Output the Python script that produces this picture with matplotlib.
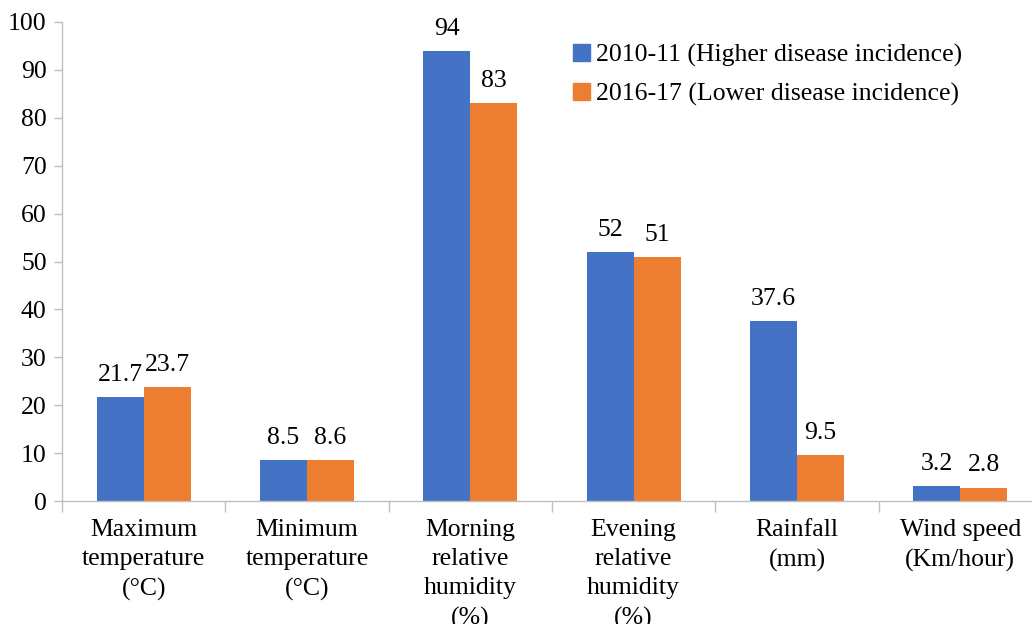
import numpy as np
import matplotlib
matplotlib.use("Agg")
import matplotlib.pyplot as plt
from matplotlib.patches import Patch

# weather parameters compared between the two seasons
categorias = [
    "Maximum\ntemperature\n(°C)",
    "Minimum\ntemperature\n(°C)",
    "Morning\nrelative\nhumidity\n(%)",
    "Evening\nrelative\nhumidity\n(%)",
    "Rainfall\n(mm)",
    "Wind speed\n(Km/hour)",
]
serie_2010 = [21.7, 8.5, 94, 52, 37.6, 3.2]
serie_2016 = [23.7, 8.6, 83, 51, 9.5, 2.8]
nomes = ["2010-11 (Higher disease incidence)", "2016-17 (Lower disease incidence)"]
y_ticks = list(range(0, 101, 10))

AZUL = "#4472C4"
LARANJA = "#ED7D31"
CINZA = "#BFBFBF"
FS = 18.5

plt.rcParams["font.family"] = ["Liberation Serif", "DejaVu Serif"]
plt.rcParams["font.size"] = FS

fig = plt.figure(figsize=(10.32, 6.24), dpi=100)
ax = fig.add_axes([62 / 1032, 123 / 624, 980 / 1032, 479 / 624])

x = np.arange(len(categorias))
larg = 0.287
b1 = ax.bar(x - larg / 2, serie_2010, larg, color=AZUL)
b2 = ax.bar(x + larg / 2, serie_2016, larg, color=LARANJA)

ax.bar_label(b1, labels=[f"{v:g}" for v in serie_2010], padding=8, fontsize=FS)
ax.bar_label(b2, labels=[f"{v:g}" for v in serie_2016], padding=8, fontsize=FS)

ax.set_xlim(-0.5, len(categorias) - 0.5)
ax.set_ylim(0, 100)
ax.set_yticks(y_ticks)

ax.set_xticks(x)
ax.set_xticklabels(categorias, va="top", linespacing=1.42)
ax.set_xticks(np.arange(-0.5, len(categorias)), minor=True)
ax.tick_params(axis="x", which="major", length=0, pad=13)
ax.tick_params(axis="x", which="minor", length=8, color=CINZA, width=1)
ax.tick_params(axis="y", length=6, color=CINZA, width=1, pad=5)

for lado in ["top", "right"]:
    ax.spines[lado].set_visible(False)
for lado in ["left", "bottom"]:
    ax.spines[lado].set_color(CINZA)
    ax.spines[lado].set_linewidth(1)

alcas = [Patch(color=AZUL), Patch(color=LARANJA)]
ax.legend(alcas, nomes, loc="upper left", bbox_to_anchor=(552 / 1032, 1 - 23 / 624),
          bbox_transform=fig.transFigure, frameon=False, fontsize=FS,
          handlelength=0.68, handleheight=0.68, handletextpad=0.22, labelspacing=0.62,
          borderpad=0.3)

fig.savefig("out.png", dpi=100)
